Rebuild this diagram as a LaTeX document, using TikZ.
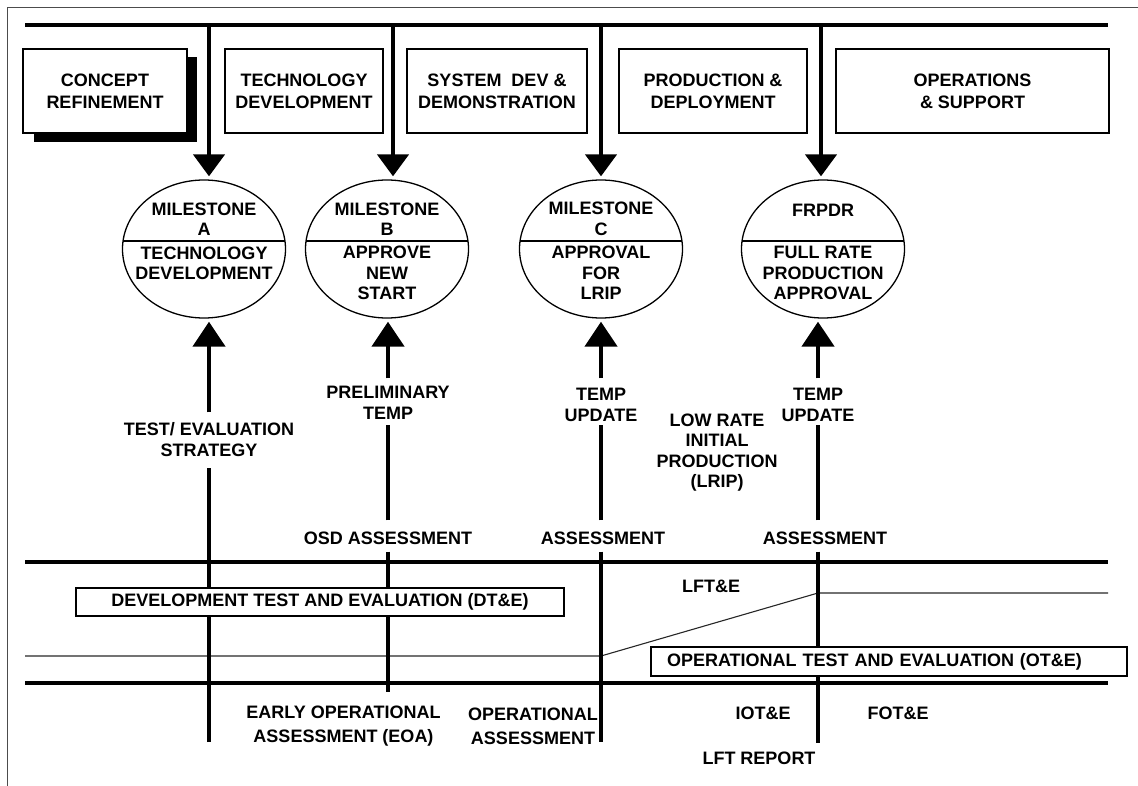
\documentclass[tikz,border=0pt]{standalone}
\usepackage{fontspec}
\setmainfont{Liberation Sans}
\usetikzlibrary{arrows.meta,shapes.geometric,calc}

\begin{document}
\begin{tikzpicture}[x=1pt,y=-1pt,
  txt/.style={font=\fontsize{18}{20.5}\selectfont\bfseries, align=center, inner sep=0pt},
  looser/.style={font=\fontsize{18}{24}\selectfont\bfseries},
  phase/.style={draw, line width=1.2pt, fill=white, minimum width=#1, minimum height=84pt,
    inner sep=0pt, align=center, font=\fontsize{18}{22}\selectfont\bfseries},
  mile/.style={draw, ellipse, line width=1.3pt, minimum width=163pt, minimum height=138pt, inner sep=0pt},
  band/.style={draw, line width=1.2pt, fill=white, minimum height=28pt, inner sep=0pt,
    font=\fontsize{18}{20.5}\selectfont\bfseries},
  rail/.style={line width=3.5pt},
  shaft/.style={line width=4.5pt},
  downarrow/.style={shaft, -{Triangle[width=31pt,length=22pt]}},
  uparrow/.style={shaft, -{Triangle[width=32pt,length=25pt]}},
  frame/.style={draw=black!70, line width=1pt}
]
\useasboundingbox (0,0) rectangle (1138,786);

% page frame
\draw[frame] (7,786) -- (7,8) -- (1138,8);

% decision rail across the top
\draw[rail] (25,25) -- (1108,25);
\coordinate (tA) at (209,25);
\coordinate (tB) at (393,25);
\coordinate (tC) at (601,25);
\coordinate (tD) at (821,25);

% acquisition phases
\fill (34,57) rectangle (197,142);
\node[phase=164pt] (concept) at (105,91) {CONCEPT\\REFINEMENT};
\node[phase=158pt] (techdev) at (304,91) {TECHNOLOGY\\DEVELOPMENT};
\node[phase=180pt] (sdd) at (497,91) {SYSTEM\ \ DEV \&\\DEMONSTRATION};
\node[phase=188pt] (pd) at (713,91) {PRODUCTION \&\\DEPLOYMENT};
\node[phase=273pt] (os) at (972.5,91) {OPERATIONS\\\& SUPPORT};

% milestone decisions
\node[mile] (mA) at (204,249) {};
\node[mile] (mB) at (387,249) {};
\node[mile] (mC) at (601,249) {};
\node[mile] (mD) at (823,249) {};
\foreach \m in {mA,mB,mC,mD}{
  \draw[line width=1.2pt] ($(\m.center)+(-80.9,-8)$) -- ($(\m.center)+(80.9,-8)$);
}
\node[txt] (mAt) at (204,219) {MILESTONE\\A};
\node[txt] (mAb) at (204,263.5) {TECHNOLOGY\\DEVELOPMENT};
\node[txt] (mBt) at (387,219) {MILESTONE\\B};
\node[txt] (mBb) at (387,273) {APPROVE\\NEW\\START};
\node[txt] (mCt) at (601,219) {MILESTONE\\C};
\node[txt] (mCb) at (601,273) {APPROVAL\\FOR\\LRIP};
\node[txt] (mDt) at (823,210) {FRPDR};
\node[txt] (mDb) at (823,273) {FULL RATE\\PRODUCTION\\APPROVAL};

% arrows from the rail into the milestones
\draw[downarrow, shorten >=3pt] (tA) -- (tA |- mA.north);
\draw[downarrow, shorten >=3pt] (tB) -- (tB |- mB.north);
\draw[downarrow, shorten >=3pt] (tC) -- (tC |- mC.north);
\draw[downarrow, shorten >=3pt] (tD) -- (tD |- mD.north);

% test documents feeding each milestone
\node[txt] (lA) at (209,439.5) {TEST/ EVALUATION\\STRATEGY};
\node[txt] (lB) at (388,403) {PRELIMINARY\\TEMP};
\node[txt] (lC) at (601,405) {TEMP\\UPDATE};
\node[txt] (lD) at (818,405) {TEMP\\UPDATE};
\node[txt] (lrip) at (717,452.5) {LOW RATE\\INITIAL\\PRODUCTION\\(LRIP)};

\node[txt] (asB) at (388,538) {OSD ASSESSMENT};
\node[txt] (asC) at (603,538) {ASSESSMENT};
\node[txt] (asD) at (825,538) {ASSESSMENT};

\draw[uparrow, shorten <=10pt, shorten >=3pt] (lA.north) -- (lA.north |- mA.south);
\draw[uparrow, shorten <=8pt, shorten >=3pt] (lB.north) -- (lB.north |- mB.south);
\draw[uparrow, shorten <=10pt, shorten >=3pt] (lC.north) -- (lC.north |- mC.south);
\draw[uparrow, shorten <=10pt, shorten >=3pt] (lD.north) -- (lD.north |- mD.south);

% lower test band
\draw[rail] (25,562) -- (1108,562);
\draw[rail] (25,683) -- (1108,683);
\coordinate (dtEnd) at (601,656);
\coordinate (lftTurn) at (818,593);
\draw[draw=black!55, line width=1.5pt] (25,656) -- (dtEnd);
\draw[draw=black!85, line width=1.1pt] (dtEnd) -- (lftTurn) -- (1108,593);

\coordinate (bA) at (209,742);
\coordinate (bB) at (388,692);
\coordinate (bC) at (601,742);
\coordinate (bD) at (818,743);

\draw[shaft, shorten >=11pt] (bA) -- (lA.south);
\draw[shaft, shorten <=11pt, shorten >=5pt] (asB.north) -- (asB.north |- lB.south);
\draw[shaft, shorten <=11pt, shorten >=3pt] (asC.north -| lC) -- (lC.south);
\draw[shaft, shorten <=11pt, shorten >=3pt] (asD.north -| lD) -- (lD.south);
\draw[shaft, shorten <=7pt] (asB.south) -- (bB);
\draw[shaft, shorten <=7pt] (asC.south -| bC) -- (bC);
\draw[shaft, shorten <=7pt] (asD.south -| bD) -- (bD);

\node[txt] (lfte) at (711,586) {LFT\&E};
\node[band, minimum width=488pt] (dte) at (320,602) {DEVELOPMENT TEST AND EVALUATION (DT\&E)};
\node[band, minimum height=29pt, text width=444pt, inner xsep=16pt, align=left] (ote) at (889,661.5)
  {OPERATIONAL TEST AND EVALUATION (OT\&E)};

% assessments below the band
\node[txt, looser] (eoa) at (343.5,726) {EARLY OPERATIONAL\\ASSESSMENT (EOA)};
\node[txt, looser] (oa) at (533,726) {OPERATIONAL\\ASSESSMENT};
\node[txt] (iote) at (763,713) {IOT\&E};
\node[txt] (fote) at (898,713) {FOT\&E};
\node[txt] (lftr) at (759,758) {LFT REPORT};

\end{tikzpicture}
\end{document}
